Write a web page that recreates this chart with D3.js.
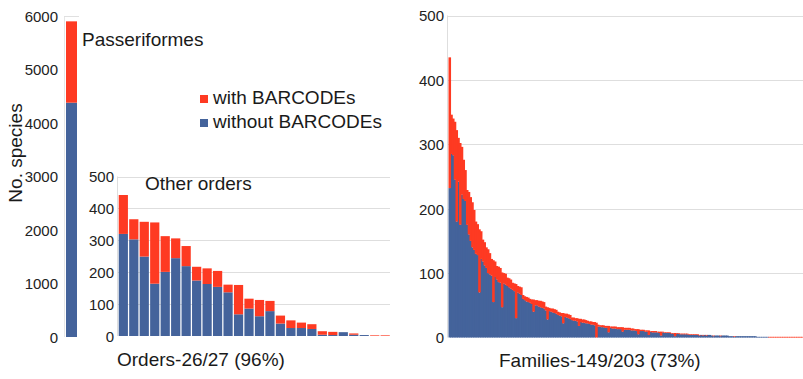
<!DOCTYPE html>
<html>
<head>
<meta charset="utf-8">
<script src="https://cdn.jsdelivr.net/npm/d3@7"></script>
<style>
  html, body { margin: 0; padding: 0; background: #fff; }
  svg { display: block; font-family: "Liberation Sans", Arial, sans-serif; }
  .tick-label { font-size: 15px; fill: #222; }
  .big { font-size: 19px; fill: #1a1a1a; }
</style>
</head>
<body>
<svg id="chart" width="803" height="379"></svg>
<script>
// Species counts per order / family, split into species without and with barcodes.
const colorWith = "#fe3a22";
const colorWithout = "#44639b";

// Passeriformes (largest order)
const mainOrder = ["Passeriformes"];
const mainTotal = [5900];
const mainWithout = [4380];
const mainTicks = [0, 1000, 2000, 3000, 4000, 5000, 6000];

// The other 26 orders, ranked by species count
const otherOrders = d3.range(1, 27).map(i => "Order " + i);
const otherTotal = [442, 366, 358, 356, 313, 306, 282, 217, 212, 204,
                    161, 160, 117, 113, 110, 64, 49, 42, 37, 15,
                    13, 12, 8, 3, 2, 2];
const otherWithout = [320, 303, 249, 164, 201, 244, 219, 174, 163, 154,
                      137, 68, 86, 62, 78, 39, 25, 25, 22, 4,
                      3, 12, 4, 3, 0, 0];
const otherTicks = [0, 100, 200, 300, 400, 500];

// 203 families, ranked by species count
const familyTotal = [
  435,346,340,335,322,310,302,296,276,260,
  229,226,218,210,198,180,176,168,165,152,
  148,140,137,131,122,120,118,111,110,108,
  101,100,99,93,92,90,85,84,83,80,
  79,78,66,64,63,62,60,59,59,58,
  58,57,57,56,55,48,47,46,45,45,
  44,43,40,39,38,38,37,37,36,35,
  31,31,30,30,29,29,28,28,27,26,
  25,25,24,24,23,20,19,19,19,18,
  18,18,17,17,17,17,16,16,16,16,
  15,15,15,15,14,14,13,13,13,12,
  12,12,11,11,11,10,10,10,10,9,
  9,9,9,8,8,8,8,7,7,7,
  7,7,6,6,6,6,6,5,5,5,
  5,5,5,4,4,4,4,4,4,4,
  3,3,3,3,3,3,3,3,3,3,
  2,2,2,2,2,2,2,2,2,2,
  2,2,2,2,2,2,1,1,1,1,
  1,1,1,1,1,1,1,1,1,1,
  1,1,1,1,1,1,1,1,1,1,
  1,1,1
];
const familyWithout = [
  232,285,283,245,180,242,175,222,215,212,
  175,160,150,140,136,130,128,70,122,118,
  112,108,100,98,96,55,94,90,86,85,
  47,84,82,80,78,76,74,72,30,70,
  68,66,60,58,56,55,54,52,40,50,
  50,48,47,46,45,42,28,41,40,39,
  38,37,35,34,33,22,32,31,30,29,
  27,26,26,25,18,24,23,23,22,22,
  21,20,20,19,0,17,17,16,16,15,
  15,8,15,14,14,14,13,13,13,9,
  12,12,12,12,11,11,11,10,5,10,
  10,10,9,9,4,9,8,8,8,8,
  7,3,8,7,7,7,7,6,6,2,
  6,6,5,5,5,5,5,4,4,4,
  4,4,4,3,4,3,4,3,4,4,
  3,2,3,3,3,2,3,3,3,3,
  2,2,2,1,2,2,2,2,2,2,
  2,2,2,2,2,2,1,1,1,1,
  1,1,1,0,0,0,0,0,0,0,
  0,0,0,0,0,0,0,0,0,0,
  0,0,0
];
const familyIds = d3.range(1, familyTotal.length + 1).map(i => "F" + i);
const familyTicks = [0, 100, 200, 300, 400, 500];

const svg = d3.select("#chart");
const gridColor = "#dedede";

// Draws stacked bars: "without" at the bottom, "with" on top.
function stackedBars(g, keys, totals, withouts, x, y, widthExtra) {
  const rows = keys.map((k, i) => ({ k, total: totals[i], without: withouts[i] }));
  const w = x.bandwidth() + (widthExtra || 0);
  g.selectAll("rect.without").data(rows).join("rect")
    .attr("class", "without")
    .attr("x", d => x(d.k))
    .attr("y", d => y(d.without))
    .attr("width", w)
    .attr("height", d => y(0) - y(d.without))
    .attr("fill", colorWithout);
  g.selectAll("rect.with").data(rows).join("rect")
    .attr("class", "with")
    .attr("x", d => x(d.k))
    .attr("y", d => y(d.total))
    .attr("width", w)
    .attr("height", d => y(d.without) - y(d.total))
    .attr("fill", colorWith);
}

function yAxisLabels(g, y, ticks, xRight) {
  const ax = d3.axisLeft(y).tickValues(ticks).tickFormat(d3.format("d")).tickSize(0).tickPadding(0);
  g.attr("transform", `translate(${xRight},0)`).call(ax);
  g.select(".domain").remove();
  g.selectAll("text").attr("class", "tick-label").attr("dy", "0.36em");
  g.attr("font-family", null).attr("font-size", null);
}

function gridlines(g, y, ticks, x0, x1) {
  g.selectAll("line").data(ticks).join("line")
    .attr("x1", x0).attr("x2", x1)
    .attr("y1", d => Math.round(y(d)) + 0.5).attr("y2", d => Math.round(y(d)) + 0.5)
    .attr("stroke", gridColor).attr("stroke-width", 1);
}

// ---------- Left: Passeriformes ----------
const yMain = d3.scaleLinear().domain([0, 6000]).range([337, 16]);
const xMain = d3.scaleBand().domain(mainOrder).range([66, 77]).padding(0);
svg.append("line").attr("x1", 64.5).attr("x2", 64.5).attr("y1", yMain(6000)).attr("y2", yMain(0))
  .attr("stroke", "#e6e6e6");
svg.append("line").attr("x1", 64).attr("x2", 79).attr("y1", Math.round(yMain(6000)) + 0.5)
  .attr("y2", Math.round(yMain(6000)) + 0.5).attr("stroke", "#e0e0e0");
stackedBars(svg.append("g"), mainOrder, mainTotal, mainWithout, xMain, yMain, 0);
yAxisLabels(svg.append("g"), yMain, mainTicks, 58);

svg.append("text").attr("class", "big").attr("x", 82).attr("y", 46).text("Passeriformes");
svg.append("text").attr("class", "big")
  .attr("transform", "translate(22,153) rotate(-90)")
  .attr("text-anchor", "middle").text("No. species");

// Legend
const legend = svg.append("g").attr("transform", "translate(200,0)");
[[colorWith, "with BARCODEs", 104], [colorWithout, "without BARCODEs", 128]].forEach(([c, t, yb]) => {
  legend.append("rect").attr("x", 0).attr("y", yb - 9).attr("width", 8).attr("height", 8).attr("fill", c);
  legend.append("text").attr("class", "big").attr("x", 13).attr("y", yb).text(t);
});

// ---------- Inset: other orders ----------
const yOther = d3.scaleLinear().domain([0, 500]).range([336, 176.5]);
const xOther = d3.scaleBand().domain(otherOrders).range([118.5, 390]).paddingInner(0.12).paddingOuter(0.02);
gridlines(svg.append("g"), yOther, otherTicks.slice(1), 118, 390);
svg.append("line").attr("x1", 117.5).attr("x2", 117.5).attr("y1", yOther(500)).attr("y2", yOther(0))
  .attr("stroke", gridColor);
stackedBars(svg.append("g"), otherOrders, otherTotal, otherWithout, xOther, yOther, 0);
yAxisLabels(svg.append("g"), yOther, otherTicks, 114);
svg.append("text").attr("class", "big").attr("x", 145).attr("y", 190).text("Other orders");
svg.append("text").attr("class", "big").attr("x", 117).attr("y", 366).text("Orders-26/27 (96%)");

// ---------- Right: families ----------
const yFam = d3.scaleLinear().domain([0, 500]).range([337.5, 15.5]);
const xFam = d3.scaleBand().domain(familyIds).range([448.5, 803]).padding(0);
gridlines(svg.append("g"), yFam, familyTicks.slice(1), 448, 803);
svg.append("line").attr("x1", 447.5).attr("x2", 447.5).attr("y1", yFam(500)).attr("y2", yFam(0))
  .attr("stroke", gridColor);
stackedBars(svg.append("g"), familyIds, familyTotal, familyWithout, xFam, yFam, 0.8);
yAxisLabels(svg.append("g"), yFam, familyTicks, 444);
svg.append("text").attr("class", "big").attr("x", 499).attr("y", 367).text("Families-149/203 (73%)");
</script>
</body>
</html>
